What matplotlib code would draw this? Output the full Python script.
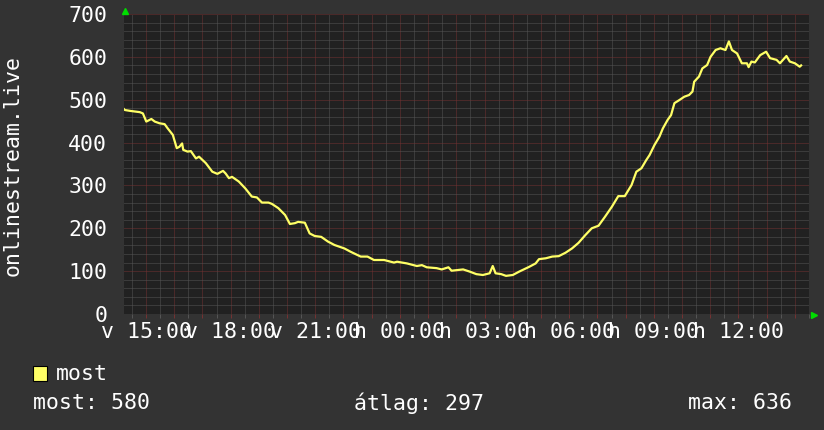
import numpy as np
import matplotlib.pyplot as plt
from matplotlib.patches import Rectangle
from matplotlib.transforms import offset_copy

# ora a vasarnap 15:00 ota (olvasva a kepről)
hours = [-0.78, -0.75, -0.57, -0.22, -0.11, 0.01, 0.19, 0.31, 0.48, 0.66,
         0.77, 0.95, 1.09, 1.18, 1.28, 1.32, 1.47, 1.59, 1.77, 1.88,
         2.12, 2.35, 2.53, 2.73, 2.82, 2.94, 3.05, 3.29, 3.52, 3.75,
         3.93, 4.11, 4.34, 4.46, 4.69, 4.93, 5.10, 5.28, 5.39, 5.63,
         5.80, 5.98, 6.21, 6.45, 6.68, 7.03, 7.26, 7.61, 7.85, 8.08,
         8.44, 8.79, 8.90, 9.25, 9.60, 9.78, 9.95, 10.30, 10.48, 10.72,
         10.83, 11.24, 11.47, 11.71, 11.94, 12.18, 12.29, 12.39, 12.59, 12.76,
         13.00, 13.23, 13.58, 13.81, 13.93, 14.17, 14.40, 14.63, 14.87, 15.10,
         15.33, 15.57, 15.80, 16.04, 16.27, 16.51, 16.74, 16.97, 17.21, 17.38,
         17.56, 17.73, 17.85, 18.02, 18.20, 18.32, 18.49, 18.61, 18.73, 18.90,
         19.08, 19.25, 19.37, 19.43, 19.60, 19.72, 19.89, 20.01, 20.19, 20.36,
         20.54, 20.66, 20.77, 20.95, 21.12, 21.30, 21.36, 21.46, 21.58, 21.77,
         21.98, 22.12, 22.35, 22.47, 22.70, 22.82, 23.00, 23.17, 23.22]
users = [478, 476, 474, 471, 468, 449, 455, 449, 445, 443,
         433, 418, 387, 390, 398, 383, 379, 380, 363, 367,
         352, 332, 327, 334, 328, 317, 320, 309, 293, 274,
         272, 260, 260, 257, 247, 231, 210, 212, 215, 213,
         188, 182, 180, 169, 161, 153, 145, 134, 134, 126,
         126, 120, 122, 118, 112, 114, 109, 107, 104, 109,
         101, 104, 99, 93, 91, 95, 112, 95, 93, 89,
         91, 99, 110, 118, 128, 130, 134, 135, 143, 153,
         166, 184, 200, 206, 227, 250, 275, 275, 301, 332,
         340, 359, 371, 394, 414, 433, 453, 464, 492, 499,
         507, 511, 519, 542, 554, 573, 581, 600, 616, 620,
         616, 636, 616, 608, 585, 585, 576, 589, 587, 604,
         612, 597, 593, 585, 602, 589, 585, 577, 580]

tick_hours = [0, 3, 6, 9, 12, 15, 18, 21]
tick_labels = ['v 15:00', 'v 18:00', 'v 21:00', 'h 00:00',
               'h 03:00', 'h 06:00', 'h 09:00', 'h 12:00']

label_most = 'most: 580'
label_atlag = 'átlag: 297'
label_max = 'max: 636'

plt.rcParams['font.family'] = 'DejaVu Sans Mono'
plt.rcParams['font.size'] = 15.5

W, H = 824, 430
fig = plt.figure(figsize=(W/100, H/100), dpi=100, facecolor='#333333')
ax = fig.add_axes([124/W, 116/H, 685/W, 300/H])
ax.set_facecolor('#212121')

ax.set_xlim(-0.78, 23.25)
ax.set_ylim(0, 700)
ax.set_xticks(range(0, 24))
ax.set_xticks(np.arange(-0.5, 23.6, 1.0), minor=True)
ax.set_xticklabels([tick_labels[tick_hours.index(h)] if h in tick_hours else ''
                    for h in range(0, 24)])
ax.set_yticks(range(0, 701, 100))
ax.set_yticks(range(0, 701, 20), minor=True)

dots = (0, (1, 1))
ax.grid(which='minor', color='#555555', ls=dots, lw=0.72)
ax.grid(which='major', color='#743232', ls=dots, lw=0.72)
ax.set_axisbelow(True)
for s in ax.spines.values():
    s.set_visible(False)

ax.tick_params(axis='x', which='major', colors='#743232', labelcolor='white',
               length=3, width=0.72, pad=2.5)
ax.tick_params(axis='x', which='minor', colors='#555555', length=3, width=0.72)
ax.tick_params(axis='y', which='both', length=0, pad=12, labelcolor='white')

ax.plot(hours, users, color='#ffff66', lw=1.6, zorder=3)

# zold nyilak a tengelyek vegen
ax.plot([0], [1], marker='^', color='#00dd00', ms=4.5, clip_on=False,
        transform=offset_copy(ax.transAxes, fig, x=0.7, y=3.3, units='dots'))
ax.plot([1], [0], marker='>', color='#00dd00', ms=4.5, clip_on=False,
        transform=offset_copy(ax.transAxes, fig, x=4.5, y=-0.5, units='dots'))

fig.text(13/W, 1 - 165/H, 'onlinestream.live', rotation=90, color='white',
         ha='center', va='center')

# jelmagyarazat
fig.patches.append(Rectangle((33/W, 1 - 381/H), 14/W, 15/H, transform=fig.transFigure,
                             facecolor='#ffff66', edgecolor='black', lw=0.8))
fig.text(56/W, 1 - 374/H, 'most', color='white', va='center')
fig.text(33/W, 1 - 403/H, label_most, color='white', va='center')
fig.text(354/W, 1 - 403/H, label_atlag, color='white', va='center')
fig.text(792/W, 1 - 403/H, label_max, color='white', va='center', ha='right')

fig.savefig('out.png', dpi=100, facecolor=fig.get_facecolor())
